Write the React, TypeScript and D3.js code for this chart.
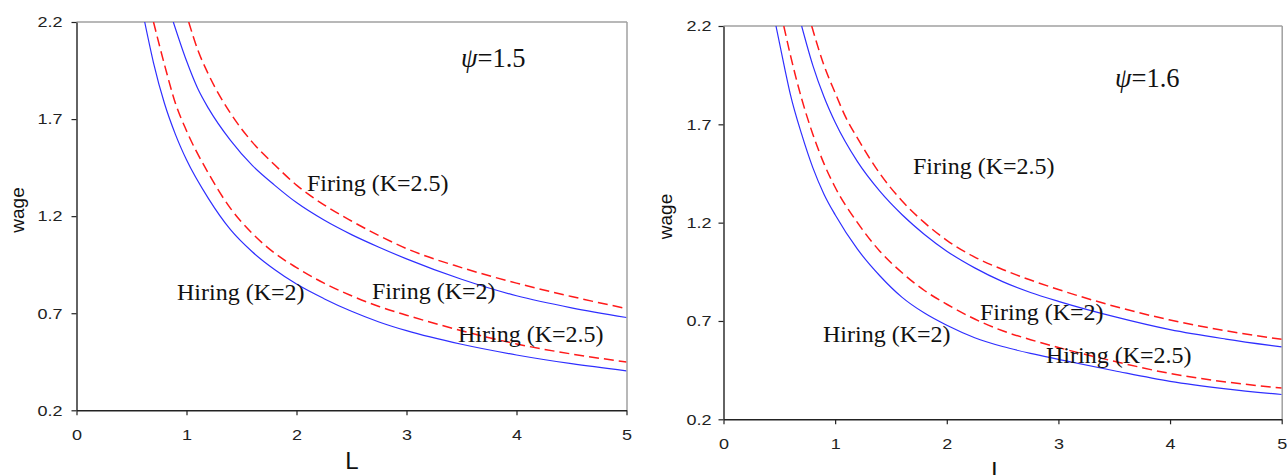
import React, { useEffect, useRef } from "react";
import * as d3 from "d3";

// ---------- data ----------
const xTicks = [0, 1, 2, 3, 4, 5];
const yTicks = [0.2, 0.7, 1.2, 1.7, 2.2];
const xDomain = [0, 5];
const yDomain = [0.2, 2.2];

// psi = 1.5 panel  ([L, wage])
const hiringK2_psi15: [number, number][] = [
  [0.62, 2.2], [0.7, 1.99], [0.8, 1.78], [0.9, 1.62], [1.0, 1.49], [1.2, 1.29], [1.4, 1.13],
  [1.6, 1.015], [1.8, 0.925], [2.0, 0.85], [2.25, 0.775], [2.5, 0.71], [2.75, 0.655], [3.0, 0.61],
  [3.5, 0.54], [4.0, 0.485], [4.5, 0.44], [5.0, 0.403],
];
const hiringK25_psi15: [number, number][] = [
  [0.7, 2.2], [0.8, 1.98], [0.9, 1.78], [1.0, 1.64], [1.2, 1.42], [1.4, 1.24], [1.6, 1.11],
  [1.8, 1.01], [2.0, 0.935], [2.25, 0.855], [2.5, 0.79], [2.75, 0.735], [3.0, 0.69], [3.5, 0.61],
  [4.0, 0.542], [4.5, 0.49], [5.0, 0.449],
];
const firingK2_psi15: [number, number][] = [
  [0.88, 2.2], [1.0, 2.0], [1.1, 1.86], [1.2, 1.755], [1.4, 1.59], [1.6, 1.46], [1.8, 1.36],
  [2.0, 1.27], [2.25, 1.18], [2.5, 1.105], [2.75, 1.04], [3.0, 0.98], [3.5, 0.875], [4.0, 0.79],
  [4.5, 0.728], [5.0, 0.678],
];
const firingK25_psi15: [number, number][] = [
  [1.02, 2.2], [1.1, 2.06], [1.2, 1.93], [1.4, 1.73], [1.6, 1.58], [1.8, 1.465], [2.0, 1.36],
  [2.25, 1.258], [2.5, 1.175], [2.75, 1.1], [3.0, 1.033], [3.5, 0.935], [4.0, 0.855], [4.5, 0.786],
  [5.0, 0.724],
];

// psi = 1.6 panel
const hiringK2_psi16: [number, number][] = [
  [0.47, 2.2], [0.55, 1.98], [0.6, 1.85], [0.7, 1.65], [0.8, 1.48], [0.9, 1.345], [1.0, 1.24],
  [1.2, 1.065], [1.4, 0.93], [1.6, 0.82], [1.8, 0.74], [2.0, 0.678], [2.25, 0.615], [2.5, 0.57],
  [2.75, 0.535], [3.0, 0.505], [3.5, 0.447], [4.0, 0.393], [4.5, 0.355], [5.0, 0.326],
];
const hiringK25_psi16: [number, number][] = [
  [0.54, 2.2], [0.6, 2.05], [0.7, 1.83], [0.8, 1.65], [0.9, 1.5], [1.0, 1.38], [1.2, 1.2],
  [1.4, 1.055], [1.6, 0.945], [1.8, 0.855], [2.0, 0.785], [2.25, 0.71], [2.5, 0.65], [2.75, 0.605],
  [3.0, 0.565], [3.5, 0.495], [4.0, 0.433], [4.5, 0.39], [5.0, 0.359],
];
const firingK2_psi16: [number, number][] = [
  [0.7, 2.2], [0.8, 2.0], [0.9, 1.84], [1.0, 1.71], [1.2, 1.51], [1.4, 1.36], [1.6, 1.24],
  [1.8, 1.14], [2.0, 1.055], [2.25, 0.97], [2.5, 0.9], [2.75, 0.845], [3.0, 0.8], [3.5, 0.722],
  [4.0, 0.656], [4.5, 0.608], [5.0, 0.568],
];
const firingK25_psi16: [number, number][] = [
  [0.79, 2.2], [0.9, 2.0], [1.0, 1.86], [1.1, 1.73], [1.2, 1.63], [1.4, 1.45], [1.6, 1.31],
  [1.8, 1.2], [2.0, 1.11], [2.25, 1.025], [2.5, 0.962], [2.75, 0.908], [3.0, 0.86], [3.5, 0.775],
  [4.0, 0.705], [4.5, 0.65], [5.0, 0.607],
];

const psiLabels = ["1.5", "1.6"];
const curveLabels = ["Hiring (K=2)", "Hiring (K=2.5)", "Firing (K=2)", "Firing (K=2.5)"];

// ---------- layout ----------
const W = 1287;
const H = 475;
const SANS = "'Liberation Sans', Arial, sans-serif";
const SERIF = "'Liberation Serif', 'Times New Roman', serif";
const BLUE = "#2f2fff";
const RED = "#ff1a1a";

type Panel = {
  id: string;
  x0: number; x1: number; yTop: number; yBot: number;
  series: { data: [number, number][]; kind: "blue" | "red" }[];
  psi: string; psiPos: [number, number];
  labelPos: [number, number][]; // in order of curveLabels
  yLabelPos: [number, number];
  xLabelPos: [number, number];
  yPad: number;
};

const panels: Panel[] = [
  {
    id: "p15",
    x0: 76.5, x1: 626.5, yTop: 22, yBot: 410.3,
    series: [
      { data: hiringK2_psi15, kind: "blue" },
      { data: hiringK25_psi15, kind: "red" },
      { data: firingK2_psi15, kind: "blue" },
      { data: firingK25_psi15, kind: "red" },
    ],
    psi: psiLabels[0], psiPos: [461, 67],
    labelPos: [[177, 300], [458, 341.5], [372, 299], [307, 191]],
    yLabelPos: [24, 210],
    xLabelPos: [352, 469],
    yPad: 9,
  },
  {
    id: "p16",
    x0: 723.5, x1: 1281.7, yTop: 26, yBot: 419.3,
    series: [
      { data: hiringK2_psi16, kind: "blue" },
      { data: hiringK25_psi16, kind: "red" },
      { data: firingK2_psi16, kind: "blue" },
      { data: firingK25_psi16, kind: "red" },
    ],
    psi: psiLabels[1], psiPos: [1115, 87],
    labelPos: [[823, 341.5], [1046, 363], [980, 320], [913, 173.5]],
    yLabelPos: [672, 216.5],
    xLabelPos: [998, 479],
    yPad: 7,
  },
];

function ChartPanel({ p }: { p: Panel }) {
  const xAxisRef = useRef<SVGGElement>(null);
  const yAxisRef = useRef<SVGGElement>(null);
  const x = d3.scaleLinear().domain(xDomain).range([p.x0, p.x1]);
  const y = d3.scaleLinear().domain(yDomain).range([p.yBot, p.yTop]);
  const line = d3
    .line<[number, number]>()
    .x((d) => x(d[0]))
    .y((d) => y(d[1]))
    .curve(d3.curveMonotoneX);

  useEffect(() => {
    const sx = 1.2;
    const gx = d3.select(xAxisRef.current as SVGGElement);
    gx.call(
      d3.axisBottom(x).tickValues(xTicks).tickSize(5).tickSizeOuter(0).tickPadding(14).tickFormat(d3.format("d")) as any
    );
    gx.select(".domain").attr("stroke", "#222").attr("stroke-width", 1.4);
    gx.selectAll(".tick line").attr("stroke", "#222").attr("stroke-width", 1.2);
    gx.selectAll(".tick text")
      .attr("font-family", SANS)
      .attr("font-size", 15)
      .attr("fill", "#222")
      .attr("transform", `scale(${sx},1)`);

    const gy = d3.select(yAxisRef.current as SVGGElement);
    gy.call(
      d3.axisLeft(y).tickValues(yTicks).tickSize(5).tickSizeOuter(0).tickPadding(p.yPad).tickFormat(d3.format(".1f")) as any
    );
    gy.select(".domain").attr("stroke", "#222").attr("stroke-width", 1.4);
    gy.selectAll(".tick line").attr("stroke", "#222").attr("stroke-width", 1.2);
    gy.selectAll(".tick text")
      .attr("font-family", SANS)
      .attr("font-size", 15)
      .attr("fill", "#222")
      .attr("x", -(5 + p.yPad) / sx)
      .attr("transform", `scale(${sx},1)`);
  });

  return (
    <g>
      <defs>
        <clipPath id={`clip-${p.id}`}>
          <rect x={p.x0} y={p.yTop} width={p.x1 - p.x0} height={p.yBot - p.yTop} />
        </clipPath>
      </defs>
      {/* frame top & right */}
      <line x1={p.x0} x2={p.x1 + 0.5} y1={p.yTop} y2={p.yTop} stroke="#a0a0a0" strokeWidth={1.5} />
      <line x1={p.x1 + 0.5} x2={p.x1 + 0.5} y1={p.yTop} y2={p.yBot} stroke="#a0a0a0" strokeWidth={1.5} />
      <g clipPath={`url(#clip-${p.id})`}>
        {p.series.map((s, i) => (
          <path
            key={i}
            d={line(s.data) || ""}
            fill="none"
            stroke={s.kind === "blue" ? BLUE : RED}
            strokeWidth={s.kind === "blue" ? 1.2 : 1.5}
            strokeDasharray={s.kind === "red" ? "10,5" : undefined}
          />
        ))}
      </g>
      <g ref={xAxisRef} transform={`translate(0,${p.yBot})`} />
      <g ref={yAxisRef} transform={`translate(${p.x0},0)`} />
      {/* labels */}
      {curveLabels.map((t, i) => (
        <text key={t} x={p.labelPos[i][0]} y={p.labelPos[i][1]} fontFamily={SERIF} fontSize={24} fill="#111">
          {t}
        </text>
      ))}
      <text x={p.psiPos[0]} y={p.psiPos[1]} fontFamily={SERIF} fontSize={26.5} fill="#111">
        <tspan fontStyle="italic">ψ</tspan>
        <tspan>={p.psi}</tspan>
      </text>
      <text
        transform={`translate(${p.yLabelPos[0]},${p.yLabelPos[1]}) rotate(-90)`}
        textAnchor="middle"
        fontFamily={SANS}
        fontSize={19}
        fill="#111"
      >
        wage
      </text>
      <text x={p.xLabelPos[0]} y={p.xLabelPos[1]} textAnchor="middle" fontFamily={SANS} fontSize={24} fill="#111">
        L
      </text>
    </g>
  );
}

export default function App() {
  return (
    <svg
      width={W}
      height={H}
      viewBox={`0 0 ${W} ${H}`}
      style={{ position: "absolute", left: 0, top: 0, background: "#fff" }}
    >
      <rect x={0} y={0} width={W} height={H} fill="#fff" />
      {panels.map((p) => (
        <ChartPanel key={p.id} p={p} />
      ))}
    </svg>
  );
}
